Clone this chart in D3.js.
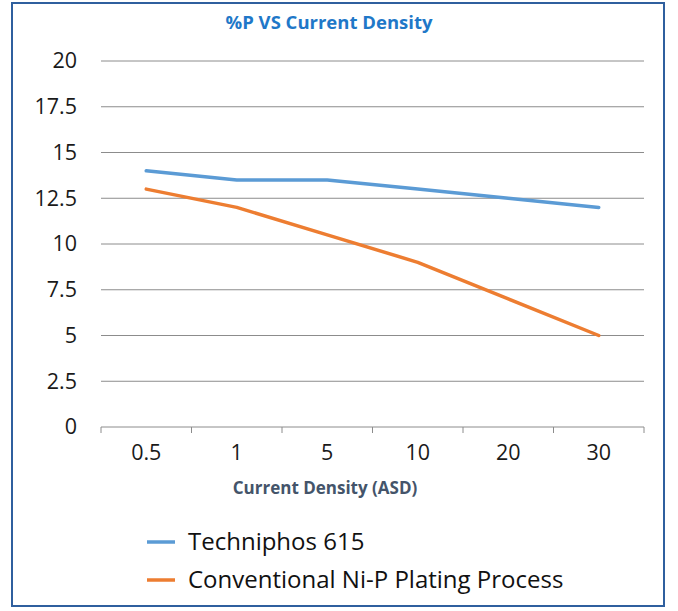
<!DOCTYPE html>
<html>
<head>
<meta charset="utf-8">
<script src="https://cdn.jsdelivr.net/npm/d3@7"></script>
<style>
  body { margin: 0; background: #fff; }
  svg { display: block; font-family: "Open Sans", "Noto Sans", sans-serif; }
</style>
</head>
<body>
<svg id="chart" width="678" height="611"></svg>
<script>
// chart values
const densities = ["0.5", "1", "5", "10", "20", "30"];
const techniphos = [14, 13.5, 13.5, 13, 12.5, 12];
const conventional = [13, 12, 10.5, 9, 7, 5];
const yTicks = [0, 2.5, 5, 7.5, 10, 12.5, 15, 17.5, 20];
const seriesNames = ["Techniphos 615", "Conventional Ni-P Plating Process"];
const seriesColors = ["#5b9bd5", "#ed7d31"];

const svg = d3.select("#chart");

// outer frame
svg.append("rect")
  .attr("x", 12).attr("y", 3).attr("width", 652).attr("height", 603)
  .attr("fill", "#fff").attr("stroke", "#2f5f9e").attr("stroke-width", 2);

svg.append("text")
  .attr("x", 329).attr("y", 29)
  .attr("text-anchor", "middle")
  .attr("font-size", 18.5).attr("font-weight", "bold")
  .attr("fill", "#1f78c8")
  .text("%P VS Current Density");

const x = d3.scaleBand().domain(densities).range([101, 644]);
const y = d3.scaleLinear().domain([0, 20]).range([427, 61]);

// gridlines
svg.append("g")
  .selectAll("line")
  .data(yTicks.filter(d => d > 0))
  .join("line")
  .attr("x1", 101).attr("x2", 644)
  .attr("y1", d => y(d)).attr("y2", d => y(d))
  .attr("stroke", "#8c8c8c").attr("stroke-width", 1);

// y axis labels
const yAxis = d3.axisLeft(y).tickValues(yTicks).tickSize(0).tickPadding(24)
  .tickFormat(d => d);
svg.append("g")
  .attr("transform", "translate(101,0)")
  .call(yAxis)
  .call(g => g.select(".domain").remove())
  .call(g => g.selectAll("text")
    .attr("font-size", 21.5).attr("fill", "#1a1a1a")
    .attr("font-family", "'Open Sans', sans-serif"));

// x axis
const xAxis = d3.axisBottom(x).tickSize(0).tickPadding(18);
const gx = svg.append("g")
  .attr("transform", "translate(0,427)")
  .call(xAxis)
  .call(g => g.select(".domain").attr("stroke", "#8c8c8c").attr("d", "M101,0H644"))
  .call(g => g.selectAll("text")
    .attr("font-size", 21.5).attr("fill", "#1a1a1a")
    .attr("font-family", "'Open Sans', sans-serif"));

// band boundary ticks
const edges = densities.map(d => x(d)).concat([x.range()[1]]);
gx.selectAll("line.edge")
  .data(edges)
  .join("line")
  .attr("class", "edge")
  .attr("x1", d => d).attr("x2", d => d)
  .attr("y1", 0).attr("y2", 6)
  .attr("stroke", "#8c8c8c");

svg.append("text")
  .attr("x", 325).attr("y", 494)
  .attr("text-anchor", "middle")
  .attr("font-size", 17).attr("font-weight", "bold")
  .attr("fill", "#44546a")
  .text("Current Density (ASD)");

// lines
const line = d3.line()
  .x((d, i) => x(densities[i]) + x.bandwidth() / 2)
  .y(d => y(d));

[techniphos, conventional].forEach((s, i) => {
  svg.append("path")
    .attr("d", line(s))
    .attr("fill", "none")
    .attr("stroke", seriesColors[i])
    .attr("stroke-width", 3.5)
    .attr("stroke-linejoin", "round")
    .attr("stroke-linecap", "round");
});

// legend
const legend = svg.append("g");
seriesNames.forEach((name, i) => {
  const ly = 542 + i * 38;
  legend.append("line")
    .attr("x1", 147).attr("x2", 175)
    .attr("y1", ly).attr("y2", ly)
    .attr("stroke", seriesColors[i]).attr("stroke-width", 3.5);
  legend.append("text")
    .attr("x", 188).attr("y", ly + 8)
    .attr("font-size", 24).attr("fill", "#111")
    .text(name);
});
</script>
</body>
</html>
